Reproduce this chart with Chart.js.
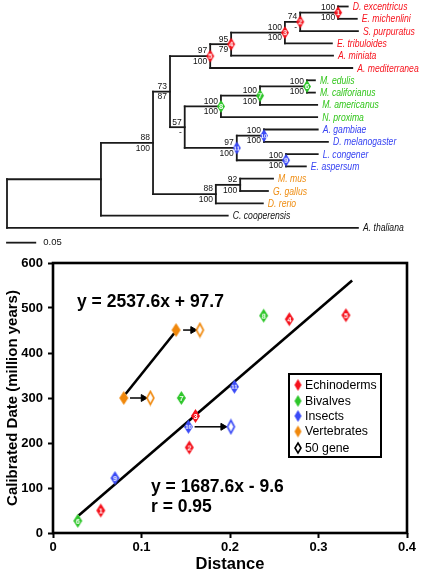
<!DOCTYPE html>
<html>
<head>
<meta charset="utf-8">
<script src="https://cdn.jsdelivr.net/npm/chart.js@4.4.1/dist/chart.umd.min.js"></script>
<style>
  html, body { margin: 0; padding: 0; background: #fff; }
  #wrap { position: relative; width: 424px; height: 574px; overflow: hidden; }
  canvas { position: absolute; left: 0; }
  #tree { top: 0; }
  #calib { top: 250px; }
</style>
</head>
<body>
<div id="wrap">
  <canvas id="tree" width="424" height="250"></canvas>
  <canvas id="calib" width="424" height="324"></canvas>
</div>
<script>
// ---- tree data ----
const taxa = ['D. excentricus', 'E. michenlini', 'S. purpuratus', 'E. tribuloides', 'A. miniata',
  'A. mediterranea', 'M. edulis', 'M. califorianus', 'M. americanus', 'N. proxima', 'A. gambiae',
  'D. melanogaster', 'L. congener', 'E. aspersum', 'M. mus', 'G. gallus', 'D. rerio',
  'C. cooperensis', 'A. thaliana'];
const taxonGroup = ['E', 'E', 'E', 'E', 'E', 'E', 'B', 'B', 'B', 'B', 'I', 'I', 'I', 'I', 'V', 'V', 'V', 'O', 'O'];
const tipDepth = [0.602, 0.618, 0.620, 0.574, 0.576, 0.610, 0.544, 0.544, 0.548, 0.548, 0.549,
  0.567, 0.549, 0.528, 0.470, 0.461, 0.452, 0.390, 0.620];
// internal nodes, ids follow the leaves (19, 20, ...)
const nodeChildren = [[0, 1], [19, 2], [20, 3], [21, 4], [22, 5], [6, 7], [24, 8], [25, 9],
  [10, 11], [12, 13], [27, 28], [26, 29], [23, 30], [14, 15], [32, 16], [31, 33], [34, 17], [35, 18]];
const nodeDepth = [0.585, 0.518, 0.491, 0.396, 0.359, 0.530, 0.447, 0.378, 0.454, 0.493, 0.406,
  0.314, 0.288, 0.412, 0.369, 0.258, 0.166, 0];
const supportTop = ['100', '74', '100', '95', '97', '100', '100', '100', '100', '100', '97', '57', '73', '92', '88', '88', '', ''];
const supportBottom = ['100', '-', '100', '79', '100', '100', '100', '100', '100', '100', '100', '-', '87', '100', '100', '100', '', ''];
const nodeMark = ['1', '2', '3', '4', '5', '6', '7', '8', '10', '9', '11', '', '', '', '', '', '', ''];
const scaleBar = [0, 0.05];
const scaleBarLabel = '0.05';

// ---- calibration plot data ----
const echinoX = [0.054, 0.154, 0.161, 0.267, 0.331];
const echinoY = [50, 190, 260, 475, 484];
const echinoNum = ['1', '2', '3', '4', '5'];
const bivalveX = [0.028, 0.145, 0.238];
const bivalveY = [27, 300, 483];
const bivalveNum = ['6', '7', '8'];
const insectX = [0.070, 0.153, 0.205];
const insectY = [122, 236, 325];
const insectNum = ['9', '10', '11'];
const vertX = [0.080, 0.139];
const vertY = [300, 451];
const gene50X = [0.110, 0.166, 0.201];
const gene50Y = [300, 451, 236];
const gene50Group = ['V', 'V', 'I'];
const fitAllX = [0.029, 0.338];
const fitAllY = [39, 561];
const fitVertX = [0.082, 0.137];
const fitVertY = [309, 444];
const arrowFromX = [0.087, 0.147, 0.160];
const arrowToX = [0.102, 0.158, 0.192];
const arrowY = [300, 451, 236];
const xTicks = [0, 0.1, 0.2, 0.3, 0.4];
const xTickLabels = ['0', '0.1', '0.2', '0.3', '0.4'];
const yTicks = [0, 100, 200, 300, 400, 500, 600];
const yTickLabels = ['0', '100', '200', '300', '400', '500', '600'];
const legendLabels = ['Echinoderms', 'Bivalves', 'Insects', 'Vertebrates', '50 gene'];

const markColor = { E: '#f5121c', B: '#2ec62a', I: '#3a4af6', V: '#f0880c', O: '#111' };
const textColor = { E: '#f7131d', B: '#33c61c', I: '#3743f2', V: '#ef8d12', O: '#111' };
const FONT = 'Arial, "Liberation Sans", Helvetica, sans-serif';

function diamondImg(color, num, w, h, hollow) {
  const c = document.createElement('canvas');
  c.width = w + 4;
  c.height = h + 4;
  const g = c.getContext('2d');
  const cx = c.width / 2, cy = c.height / 2;
  g.beginPath();
  g.moveTo(cx, cy - h / 2);
  g.lineTo(cx + w / 2, cy);
  g.lineTo(cx, cy + h / 2);
  g.lineTo(cx - w / 2, cy);
  g.closePath();
  if (hollow) {
    g.fillStyle = '#fff';
    g.fill();
    g.lineWidth = 1.6;
    g.strokeStyle = color;
    g.stroke();
  } else {
    g.fillStyle = color;
    g.fill();
  }
  if (num) {
    g.fillStyle = '#fff';
    g.font = 'bold ' + (num.length > 1 ? 6 : 7.5) + 'px ' + FONT;
    g.textAlign = 'center';
    g.textBaseline = 'middle';
    g.fillText(num, cx, cy + 0.5);
  }
  return c;
}

const pts = (xs, ys) => xs.map((x, i) => ({ x: x, y: ys[i] }));

// ---- tree ----
const leafCount = taxa.length;
function depthOf(id) { return id < leafCount ? tipDepth[id] : nodeDepth[id - leafCount]; }
function yOf(id) {
  if (id < leafCount) return id;
  const ch = nodeChildren[id - leafCount];
  return (yOf(ch[0]) + yOf(ch[ch.length - 1])) / 2;
}
function firstLeaf(id) {
  while (id >= leafCount) id = nodeChildren[id - leafCount][0];
  return id;
}
const seg = (a, b) => ({
  data: [a, b], showLine: true, borderColor: '#1a1a1a', borderWidth: 1.8,
  borderCapStyle: 'square', pointRadius: 0
});

const treeSets = [];
const markPts = [], markImgs = [];
nodeChildren.forEach((ch, k) => {
  const id = k + leafCount;
  if (nodeMark[k]) {
    markPts.push({ x: nodeDepth[k], y: yOf(id) });
    markImgs.push(diamondImg(markColor[taxonGroup[firstLeaf(id)]], nodeMark[k], 8, 13, false));
  }
});
treeSets.push({ data: markPts, pointStyle: markImgs, pointRadius: 5, showLine: false });
nodeChildren.forEach((ch, k) => {
  const x0 = nodeDepth[k];
  treeSets.push(seg({ x: x0, y: yOf(ch[0]) }, { x: x0, y: yOf(ch[ch.length - 1]) }));
  ch.forEach(c => treeSets.push(seg({ x: x0, y: yOf(c) }, { x: depthOf(c), y: yOf(c) })));
});
const scaleBarY = 19.2;
treeSets.push(seg({ x: scaleBar[0], y: scaleBarY }, { x: scaleBar[1], y: scaleBarY }));

const treeText = {
  id: 'treeText',
  afterDatasetsDraw(chart) {
    const { ctx, scales: { x, y } } = chart;
    ctx.save();
    ctx.textBaseline = 'middle';
    taxa.forEach((name, i) => {
      ctx.save();
      ctx.translate(x.getPixelForValue(tipDepth[i]) + 5, y.getPixelForValue(i));
      ctx.scale(0.8, 1);
      ctx.font = 'italic 10.8px ' + FONT;
      ctx.fillStyle = textColor[taxonGroup[i]];
      ctx.fillText(name, 0, 0.5);
      ctx.restore();
    });
    ctx.font = '8.5px ' + FONT;
    ctx.fillStyle = '#111';
    ctx.textAlign = 'right';
    nodeChildren.forEach((ch, k) => {
      const px = x.getPixelForValue(nodeDepth[k]) - 3;
      const py = y.getPixelForValue(yOf(k + leafCount));
      if (supportTop[k]) ctx.fillText(supportTop[k], px, py - 5);
      if (supportBottom[k]) ctx.fillText(supportBottom[k], px, py + 5.5);
    });
    ctx.textAlign = 'left';
    ctx.font = '9.5px ' + FONT;
    ctx.fillText(scaleBarLabel, x.getPixelForValue(scaleBar[1]) + 8, y.getPixelForValue(scaleBarY));
    ctx.restore();
  }
};

new Chart(document.getElementById('tree'), {
  type: 'scatter',
  data: { datasets: treeSets },
  options: {
    responsive: false,
    animation: false,
    events: [],
    layout: { padding: 0, autoPadding: false },
    plugins: { legend: { display: false }, tooltip: { enabled: false } },
    scales: {
      x: { type: 'linear', display: false, min: -7 / 566, max: (424 - 7) / 566 },
      y: { type: 'linear', display: false, reverse: true, min: -6.5 / 12.3, max: -6.5 / 12.3 + 250 / 12.3 }
    }
  },
  plugins: [treeText]
});

// ---- calibration scatter ----
const calibSets = [
  { data: pts(echinoX, echinoY), pointStyle: echinoNum.map(n => diamondImg(markColor.E, n, 9, 14, false)) },
  { data: pts(bivalveX, bivalveY), pointStyle: bivalveNum.map(n => diamondImg(markColor.B, n, 9, 14, false)) },
  { data: pts(insectX, insectY), pointStyle: insectNum.map(n => diamondImg(markColor.I, n, 9, 14, false)) },
  { data: pts(vertX, vertY), pointStyle: vertX.map(() => diamondImg(markColor.V, '', 9, 14, false)) },
  { data: pts(gene50X, gene50Y), pointStyle: gene50Group.map(g => diamondImg(markColor[g], '', 7, 13, true)) },
  { data: pts(fitAllX, fitAllY), showLine: true, borderColor: '#000', borderWidth: 2.6, pointRadius: 0 },
  { data: pts(fitVertX, fitVertY), showLine: true, borderColor: '#000', borderWidth: 2.6, pointRadius: 0 }
];
arrowY.forEach((yv, i) => {
  calibSets.push({
    data: [{ x: arrowFromX[i], y: yv }, { x: arrowToX[i], y: yv }],
    showLine: true, borderColor: '#000', borderWidth: 1.5,
    pointRadius: [0, 4], pointStyle: 'triangle', pointRotation: 90,
    pointBackgroundColor: '#000', pointBorderColor: '#000', pointBorderWidth: 1
  });
});
calibSets.forEach(d => { if (d.pointRadius === undefined) d.pointRadius = 6; });

const calibDecor = {
  id: 'calibDecor',
  afterDatasetsDraw(chart) {
    const { ctx, chartArea: a } = chart;
    ctx.save();
    ctx.strokeStyle = '#000';
    ctx.lineWidth = 2.6;
    ctx.strokeRect(a.left, a.top, a.right - a.left, a.bottom - a.top);

    ctx.fillStyle = '#000';
    ctx.textBaseline = 'middle';
    ctx.font = 'bold 17.5px ' + FONT;
    ctx.fillText('y = 2537.6x + 97.7', 77, 52);
    ctx.fillText('y = 1687.6x - 9.6', 151, 237);
    ctx.fillText('r = 0.95', 151, 257);

    // legend box
    ctx.lineWidth = 2;
    ctx.strokeRect(289, 124, 92, 83);
    const rowY = [135, 151, 166, 181.5, 198];
    const legColors = [markColor.E, markColor.B, markColor.I, markColor.V, '#000'];
    ctx.font = '12.3px ' + FONT;
    legendLabels.forEach((lab, i) => {
      const img = diamondImg(legColors[i], '', i === 4 ? 6 : 7, i === 4 ? 10 : 12, i === 4);
      ctx.drawImage(img, 298 - img.width / 2, rowY[i] - img.height / 2);
      ctx.fillStyle = '#000';
      ctx.fillText(lab, 305, rowY[i] + 0.5);
    });
    ctx.restore();
  }
};

const tickFont = { family: FONT, weight: 'bold', size: 13 };
new Chart(document.getElementById('calib'), {
  type: 'scatter',
  data: { datasets: calibSets },
  options: {
    responsive: false,
    animation: false,
    events: [],
    layout: { padding: { top: 13, right: 17, left: 0, bottom: 0 }, autoPadding: false },
    plugins: { legend: { display: false }, tooltip: { enabled: false } },
    scales: {
      x: {
        type: 'linear', min: 0, max: 0.4,
        afterFit: s => { s.height = 41; },
        afterBuildTicks: s => { s.ticks = xTicks.map(v => ({ value: v })); },
        grid: { drawOnChartArea: false, drawTicks: true, tickLength: 5, tickWidth: 2, tickColor: '#000' },
        border: { display: false },
        ticks: { color: '#000', font: tickFont, padding: 2, maxRotation: 0, callback: (v, i) => xTickLabels[i] },
        title: { display: true, text: 'Distance', color: '#000', font: { family: FONT, weight: 'bold', size: 16.5 }, padding: { top: 0, bottom: 0 } }
      },
      y: {
        type: 'linear', min: 0, max: 600,
        afterFit: s => { s.width = 53; },
        afterBuildTicks: s => { s.ticks = yTicks.map(v => ({ value: v })); },
        grid: { drawOnChartArea: false, drawTicks: true, tickLength: 5, tickWidth: 2, tickColor: '#000' },
        border: { display: false },
        ticks: { color: '#000', font: tickFont, padding: 5, callback: (v, i) => yTickLabels[i] },
        title: { display: true, text: 'Calibrated Date (million years)', color: '#000', font: { family: FONT, weight: 'bold', size: 15 }, padding: { top: 4, bottom: 0 } }
      }
    }
  },
  plugins: [calibDecor]
});
</script>
</body>
</html>
